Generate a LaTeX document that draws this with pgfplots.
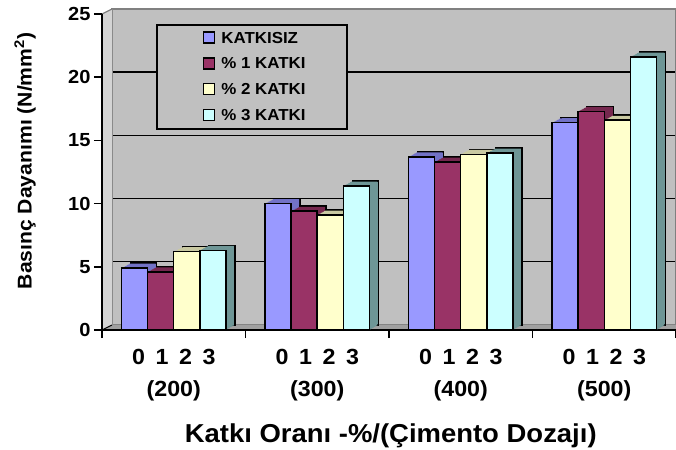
\documentclass[border=0pt]{standalone}
\usepackage{fontspec}
\setmainfont{Liberation Sans}[FakeStretch=1.06]
\usepackage{pgfplots}
\usepackage{pgfplotstable}
\pgfplotsset{compat=1.18}
\definecolor{wall}{HTML}{C0C0C0}
\definecolor{floorc}{HTML}{A0A0A0}
\definecolor{sidec}{HTML}{D4D4D4}
\definecolor{cA}{HTML}{9999FF}
\definecolor{cB}{HTML}{993366}
\definecolor{cC}{HTML}{FFFFCC}
\definecolor{cD}{HTML}{CCFFFF}
\definecolor{sA}{HTML}{7272C6}
\definecolor{sB}{HTML}{76284F}
\definecolor{sC}{HTML}{C9C9A2}
\definecolor{sD}{HTML}{6E9696}

\pgfplotstableread{
x   a    b    c    d
0.5 4.9  4.6  6.2  6.3
1.5 10.0 9.4  9.1  11.4
2.5 13.7 13.3 13.9 14.0
3.5 16.4 17.3 16.6 21.6
}\data

\newcommand{\layer}[4]{%
 \addplot[forget plot, fill=#2, draw=none, bar shift=#3, xshift=#4*1.125bp, yshift=#4*0.625bp] table[x=x,y=#1]{\data};}
\newcommand{\series}[4]{%
 \addplot[forget plot, fill=#3, draw=black, line width=1.5bp, bar shift=#4, xshift=9bp, yshift=5bp] table[x=x,y=#1]{\data};
 \layer{#1}{#3}{#4}{7}\layer{#1}{#3}{#4}{6}\layer{#1}{#3}{#4}{5}\layer{#1}{#3}{#4}{4}%
 \layer{#1}{#3}{#4}{3}\layer{#1}{#3}{#4}{2}\layer{#1}{#3}{#4}{1}%
 \addplot[fill=#2, draw=black, line width=1.5bp, bar shift=#4] table[x=x,y=#1]{\data};
}

\begin{document}
\begin{tikzpicture}
\useasboundingbox (-102bp,-120bp) rectangle (574bp,330bp);
% back wall
\begin{axis}[at={(10bp,5bp)}, anchor=south west,
  width=564bp, height=316bp, scale only axis,
  xmin=0, xmax=4, ymin=0, ymax=25,
  xtick=\empty, ytick={5,10,15,20}, yticklabels={,,,,,}, 
  major tick length=0pt,
  ymajorgrids, grid style={black, line width=1.4bp},
  axis background/.style={fill=wall},
  axis line style={draw=gray, line width=1.2bp}]
\end{axis}
% side wall and floor
\fill[sidec] (0,0) -- (0,316bp) -- (10bp,321bp) -- (10bp,5bp) -- cycle;
\draw[gray, line width=1.2bp] (0,316bp) -- (10bp,321bp);
\fill[floorc] (0,0) -- (574bp,0) -- (574bp,5bp) -- (10bp,5bp) -- cycle;
\draw[black, line width=1bp] (0,0) -- (10bp,5bp);
% front axis
\begin{axis}[at={(0,0)}, anchor=south west,
  width=574bp, height=316bp, scale only axis, clip=false,
  xmin=0, xmax=4, ymin=0, ymax=25,
  axis lines*=left, axis line style={black, line width=1.6bp},
  ybar, bar width=26.1bp,
  tick align=outside, major tick length=8bp,
  tick style={black, line width=1.5bp},
  xtick={0,1,2,3,4}, xticklabels={,,,,,},
  extra x ticks={0.5,1.5,2.5,3.5},
  extra x tick labels={
    {\makebox[23.5bp]{0}\makebox[23.5bp]{1}\makebox[23.5bp]{2}\makebox[23.5bp]{3}\\(200)},
    {\makebox[23.5bp]{0}\makebox[23.5bp]{1}\makebox[23.5bp]{2}\makebox[23.5bp]{3}\\(300)},
    {\makebox[23.5bp]{0}\makebox[23.5bp]{1}\makebox[23.5bp]{2}\makebox[23.5bp]{3}\\(400)},
    {\makebox[23.5bp]{0}\makebox[23.5bp]{1}\makebox[23.5bp]{2}\makebox[23.5bp]{3}\\(500)}},
  extra x tick style={major tick length=0pt,
    tick label style={align=center, yshift=-16bp, font=\fontsize{22}{32}\selectfont\bfseries}},
  ytick={0,5,10,15,20,25},
  yticklabel style={font=\fontsize{19}{19}\selectfont\bfseries},
  /pgf/number format/assume math mode=true,
  ylabel={Basınç Dayanımı (N/mm\textsuperscript{2})},
  ylabel style={at={(axis description cs:-0.134,0.535)}, anchor=center,
    font=\fontsize{20}{20}\selectfont\bfseries},
  xlabel={Katkı Oranı -\%/(Çimento Dozajı)},
  xlabel style={at={(axis description cs:0.503,-0.335)}, anchor=center,
    font=\fontsize{26}{26}\selectfont\bfseries},
  legend style={at={(axis cs:0.7017,23.64)}, anchor=north west,
    draw=none, fill=none, inner sep=0pt, row sep=13.3bp, column sep=6bp,
    nodes={inner sep=0pt, text height=11.5bp, text depth=0pt, anchor=base west},
    font=\fontsize{16}{16}\selectfont\bfseries},
  legend cell align=left,
  legend image code/.code={\draw[#1] (0bp,0bp) rectangle (11bp,11bp);},
]
\draw[fill=wall, line width=1.5bp] (axis cs:0.383,24.13) rectangle (axis cs:1.707,15.9);
\series{a}{cA}{sA}{-39.15bp}
\series{b}{cB}{sB}{-13.05bp}
\series{c}{cC}{sC}{13.05bp}
\series{d}{cD}{sD}{39.15bp}
\legend{KATKISIZ, \% 1 KATKI, \% 2 KATKI, \% 3 KATKI}
\end{axis}
\end{tikzpicture}
\end{document}
